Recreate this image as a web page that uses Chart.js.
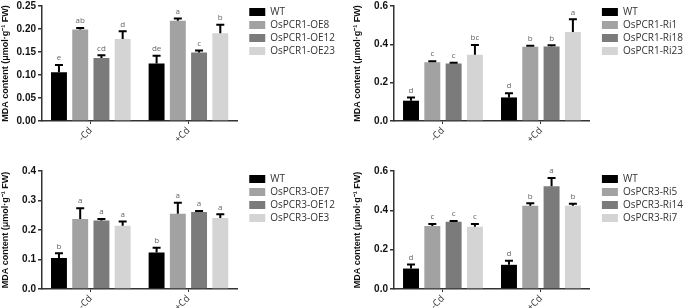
<!DOCTYPE html>
<html>
<head>
<meta charset="utf-8">
<script src="https://cdn.jsdelivr.net/npm/chart.js@4.4.0/dist/chart.umd.min.js"></script>
<style>
body{margin:0;background:#fff;width:685px;height:308px;overflow:hidden;position:relative}
canvas{position:absolute}
</style>
</head>
<body>
<canvas id="c1" width="350" height="156" style="left:0;top:-2px"></canvas>
<canvas id="c2" width="341" height="156" style="left:352px;top:-2px"></canvas>
<canvas id="c3" width="350" height="154" style="left:0;top:154px"></canvas>
<canvas id="c4" width="341" height="154" style="left:352px;top:154px"></canvas>
<script>
var treatments = ['-Cd', '+Cd'];
var colors = ['#000000', '#a2a2a2', '#7b7b7b', '#d4d4d4'];

// OsPCR1 over-expression lines
var p1Names = ['WT', 'OsPCR1-OE8', 'OsPCR1-OE12', 'OsPCR1-OE23'];
var p1Mean = [[0.106, 0.125], [0.199, 0.218], [0.137, 0.149], [0.178, 0.191]];
var p1Err = [[0.016, 0.017], [0.003, 0.005], [0.006, 0.004], [0.017, 0.018]];
var p1Sig = [['e', 'de'], ['ab', 'a'], ['cd', 'c'], ['d', 'b']];

// OsPCR1 RNAi lines
var p2Names = ['WT', 'OsPCR1-Ri1', 'OsPCR1-Ri18', 'OsPCR1-Ri23'];
var p2Mean = [[0.106, 0.123], [0.307, 0.387], [0.300, 0.389], [0.346, 0.465]];
var p2Err = [[0.017, 0.022], [0.005, 0.006], [0.004, 0.006], [0.050, 0.066]];
var p2Sig = [['d', 'd'], ['c', 'b'], ['c', 'b'], ['bc', 'a']];

// OsPCR3 over-expression lines
var p3Names = ['WT', 'OsPCR3-OE7', 'OsPCR3-OE12', 'OsPCR3-OE3'];
var p3Mean = [[0.105, 0.124], [0.237, 0.255], [0.232, 0.261], [0.214, 0.241]];
var p3Err = [[0.016, 0.016], [0.037, 0.037], [0.005, 0.003], [0.015, 0.012]];
var p3Sig = [['b', 'b'], ['a', 'a'], ['a', 'a'], ['a', 'a']];

// OsPCR3 RNAi lines
var p4Names = ['WT', 'OsPCR3-Ri5', 'OsPCR3-Ri14', 'OsPCR3-Ri7'];
var p4Mean = [[0.104, 0.123], [0.320, 0.423], [0.342, 0.523], [0.316, 0.423]];
var p4Err = [[0.020, 0.021], [0.010, 0.013], [0.004, 0.041], [0.015, 0.011]];
var p4Sig = [['d', 'd'], ['c', 'b'], ['c', 'a'], ['c', 'b']];

var yTitle = 'MDA content (\u03bcmol\u00b7g\u207b\u00b9 FW)';

// error bars + significance letters
var errorBars = {
	id: 'errorBars',
	afterDatasetsDraw: function(chart) {
		var ctx = chart.ctx;
		var y = chart.scales.y;
		chart.data.datasets.forEach(function(ds, i) {
			chart.getDatasetMeta(i).data.forEach(function(bar, j) {
				var top = y.getPixelForValue(ds.data[j] + ds.err[j]);
				ctx.save();
				ctx.strokeStyle = '#000';
				ctx.lineWidth = 2;
				ctx.beginPath();
				ctx.moveTo(bar.x, bar.y);
				ctx.lineTo(bar.x, top);
				ctx.moveTo(bar.x - 4, top);
				ctx.lineTo(bar.x + 4, top);
				ctx.stroke();
				ctx.fillStyle = '#666';
				ctx.font = '8px "Open Sans"';
				ctx.textAlign = 'center';
				ctx.textBaseline = 'bottom';
				ctx.fillText(ds.sig[j], bar.x, top - 3);
				ctx.restore();
			});
		});
	}
};

function makeChart(id, names, mean, err, sig, yMax, yStep, dec, xHeight, padTop, padRight) {
	var datasets = [];
	for (var i = 0; i < names.length; i++) {
		datasets.push({
			label: names[i],
			data: mean[i],
			err: err[i],
			sig: sig[i],
			backgroundColor: colors[i],
			borderWidth: 0,
			categoryPercentage: 0.87,
			barPercentage: 0.75
		});
	}
	return new Chart(document.getElementById(id), {
		type: 'bar',
		data: { labels: treatments, datasets: datasets },
		options: {
			responsive: false,
			animation: false,
			layout: { padding: { top: padTop, right: padRight, bottom: 0, left: 0 } },
			plugins: {
				tooltip: { enabled: false },
				legend: {
					position: 'right',
					align: 'start',
					maxWidth: 200,
					labels: {
						boxWidth: 16,
						boxHeight: 8,
						padding: 3,
						color: '#333',
						font: { family: 'Open Sans', size: 10, lineHeight: 1.05 }
					}
				}
			},
			scales: {
				x: {
					grid: { drawOnChartArea: false, offset: false, tickLength: 3, color: '#333', lineWidth: 1 },
					border: { color: '#333', width: 1.5 },
					ticks: { autoSkip: false, minRotation: 45, maxRotation: 45, padding: 1, color: '#333', font: { family: 'Open Sans', size: 9.5 } },
					afterFit: function(s) { s.height = xHeight; }
				},
				y: {
					min: 0,
					max: yMax,
					grid: { drawOnChartArea: false, tickLength: 4, color: '#333', lineWidth: 1.5 },
					border: { color: '#333', width: 1.5 },
					ticks: {
						stepSize: yStep,
						padding: 2,
						color: '#111',
						font: { family: 'Liberation Sans', size: 10, weight: 'bold' },
						callback: function(v) { return v.toFixed(dec); }
					},
					title: {
						display: true,
						text: yTitle,
						color: '#111',
						padding: { top: 0, bottom: 3 },
						font: { family: 'Liberation Sans', size: 9, weight: 'bold' }
					},
					afterFit: function(s) { s.width = 42; }
				},
				// empty axis, only keeps a gap between bars and legend
				yGap: {
					position: 'right',
					display: true,
					grid: { display: false, drawTicks: false },
					border: { display: false },
					ticks: { display: false },
					afterFit: function(s) { s.width = 9; }
				}
			}
		},
		plugins: [errorBars]
	});
}

makeChart('c1', p1Names, p1Mean, p1Err, p1Sig, 0.25, 0.05, 2, 33, 6, 5);
makeChart('c2', p2Names, p2Mean, p2Err, p2Sig, 0.6, 0.2, 1, 33, 6, 0);
makeChart('c3', p3Names, p3Mean, p3Err, p3Sig, 0.4, 0.1, 1, 19, 17, 5);
makeChart('c4', p4Names, p4Mean, p4Err, p4Sig, 0.6, 0.2, 1, 19, 17, 0);
</script>
</body>
</html>
